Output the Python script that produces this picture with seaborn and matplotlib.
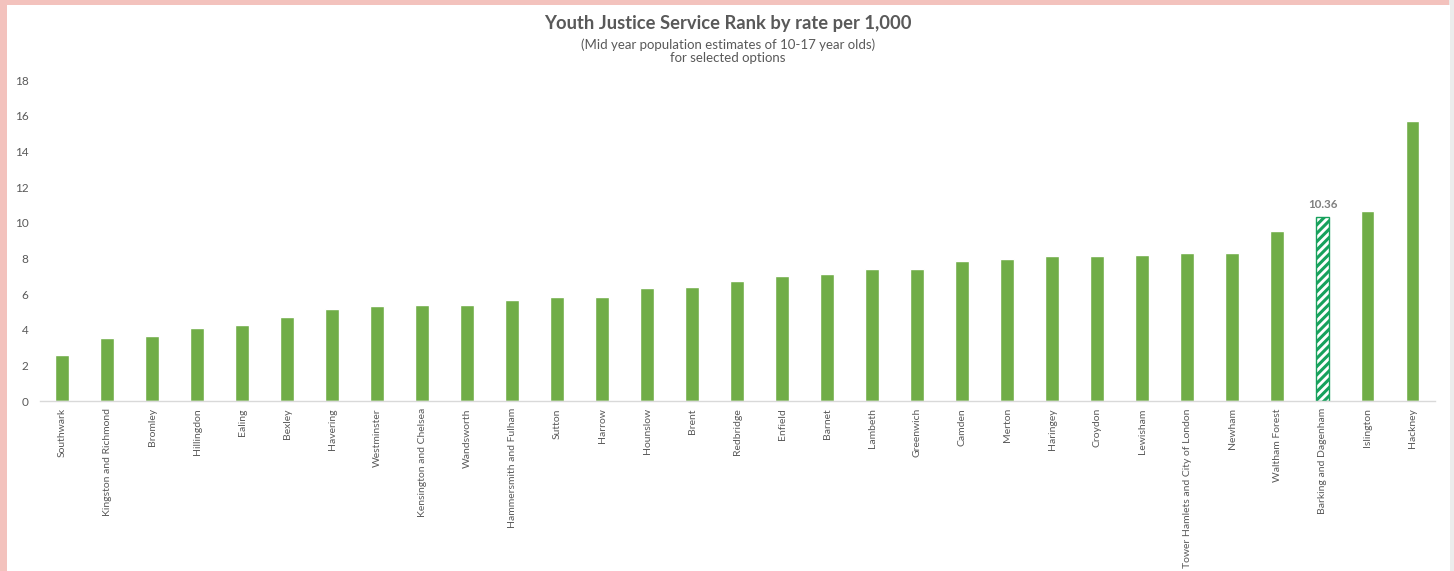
import matplotlib
matplotlib.use("Agg")
import matplotlib.pyplot as plt
from matplotlib.patches import Rectangle
import seaborn as sns
import pandas as pd

# Youth justice service rate per 1,000 (10-17 year olds), ranked low to high
boroughs = [
    "Southwark", "Kingston and Richmond", "Bromley", "Hillingdon", "Ealing",
    "Bexley", "Havering", "Westminster", "Kensington and Chelsea", "Wandsworth",
    "Hammersmith and Fulham", "Sutton", "Harrow", "Hounslow", "Brent",
    "Redbridge", "Enfield", "Barnet", "Lambeth", "Greenwich",
    "Camden", "Merton", "Haringey", "Croydon", "Lewisham",
    "Tower Hamlets and City of London", "Newham", "Waltham Forest",
    "Barking and Dagenham", "Islington", "Hackney",
]
rates = [
    2.59, 3.53, 3.66, 4.10, 4.27,
    4.70, 5.19, 5.34, 5.38, 5.38,
    5.66, 5.83, 5.87, 6.34, 6.41,
    6.77, 7.03, 7.14, 7.42, 7.42,
    7.85, 7.97, 8.17, 8.17, 8.20,
    8.30, 8.34, 9.57, 10.36, 10.66,
    15.72,
]
highlight = "Barking and Dagenham"
y_ticks = [0, 2, 4, 6, 8, 10, 12, 14, 16, 18]

title = "Youth Justice Service Rank by rate per 1,000"
subtitle = "(Mid year population estimates of 10-17 year olds)\nfor selected options"

df = pd.DataFrame({"borough": boroughs, "rate": rates})

sns.set_theme(style="white")
plt.rcParams["font.family"] = ["Lato", "DejaVu Sans"]
plt.rcParams["hatch.linewidth"] = 2.2

W, H = 1454, 571
fig = plt.figure(figsize=(W / 100, H / 100), dpi=100)
fig.patch.set_facecolor("#f3c2bd")
# light strip on the right edge
fig.add_artist(Rectangle((1449 / W, 0), 5 / W, 1, transform=fig.transFigure,
                         facecolor="#ececec", edgecolor="none", zorder=0))
# white chart card over the backdrop
fig.add_artist(Rectangle((7 / W, 0), (1450 - 7) / W, (571 - 5) / H,
                         transform=fig.transFigure, facecolor="white",
                         edgecolor="none", zorder=0))

ax = fig.add_axes([39.75 / W, (571 - 401.3) / H, (1435 - 39.75) / W, (401.3 - 80.3) / H])
ax.set_facecolor("none")

sns.barplot(data=df, x="borough", y="rate", color="#70ad47", saturation=1,
            width=0.31, ax=ax)

hatch_green = "#17a15c"
hi = boroughs.index(highlight)
for i, patch in enumerate(ax.patches):
    if i == hi:
        patch.set_facecolor("white")
        patch.set_edgecolor(hatch_green)
        patch.set_hatch("////")
        patch.set_linewidth(1.0)
ax.text(hi, rates[hi] + 0.35, f"{rates[hi]:.2f}", ha="center", va="bottom",
        fontsize=8.3, fontweight="bold", color="#7f7f7f")

ax.set_xlim(-0.5, len(boroughs) - 0.5)
ax.set_ylim(0, 18)
ax.set_yticks(y_ticks)
ax.set_xlabel("")
ax.set_ylabel("")
ax.tick_params(axis="y", length=0, labelsize=8.5, labelcolor="#595959", pad=8)
ax.tick_params(axis="x", length=0, labelsize=7.5, labelcolor="#595959", pad=5)
ax.set_xticks(range(len(boroughs)))
ax.set_xticklabels(boroughs, rotation=90, va="top", ha="center")
for side in ["top", "right", "left"]:
    ax.spines[side].set_visible(False)
ax.spines["bottom"].set_color("#d9d9d9")
ax.spines["bottom"].set_linewidth(1.0)

fig.text(728 / W, 1 - 23 / H, title, ha="center", va="center",
         fontsize=13.2, fontweight="bold", color="#595959")
fig.text(728 / W, 1 - 51 / H, subtitle, ha="center", va="center",
         fontsize=9.5, color="#595959", linespacing=1.15)

fig.savefig("out.png", dpi=100, facecolor=fig.get_facecolor())
